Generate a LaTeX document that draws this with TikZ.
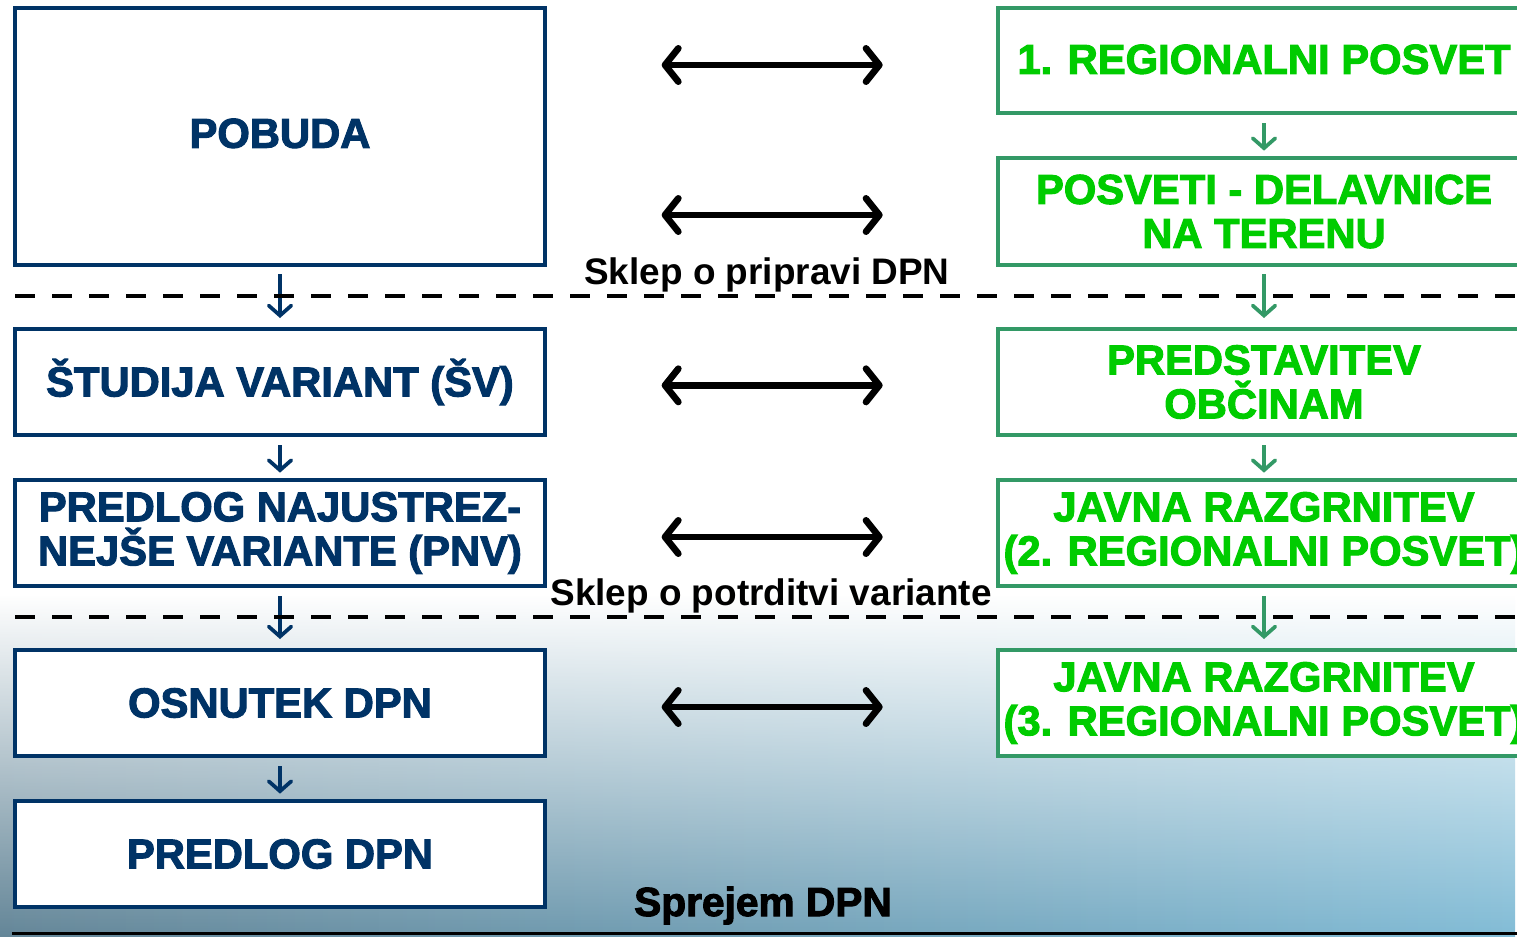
\documentclass[tikz,border=0pt]{standalone}
\usepackage{fontspec}
\setmainfont{Liberation Sans}
\newfontfamily\heavyfont[BoldFeatures={FakeBold=2.5}]{Liberation Sans}
\usetikzlibrary{arrows.meta,fadings}
\definecolor{navy}{RGB}{0,51,102}
\definecolor{gborder}{RGB}{51,153,102}
\definecolor{gtext}{RGB}{0,204,0}
\definecolor{bgl}{RGB}{100,134,152}
\definecolor{bgr}{RGB}{130,188,214}
\tikzfading[name=bgfade, top color=transparent!100, bottom color=transparent!0]
\begin{document}
\begin{tikzpicture}[x=0.75pt,y=-0.75pt,
  boxfont/.style={font=\heavyfont\fontsize{31.3}{33}\selectfont\bfseries},
  lbox/.style={boxfont, draw=navy, line width=3pt, fill=white, minimum width=397.5pt, minimum height=79.5pt, text=navy, align=center, inner sep=0pt},
  rbox/.style={boxfont, draw=gborder, line width=3pt, fill=white, minimum width=399pt, minimum height=79.5pt, text=gtext, align=center, inner sep=0pt},
  dbl/.style={line width=5pt, {Straight Barb[length=10pt,width=25pt,line cap=round,line join=round]}-{Straight Barb[length=10pt,width=25pt,line cap=round,line join=round]}, shorten <=86pt, shorten >=85pt},
  sarL/.style={draw=navy, line width=2.8pt, -{Straight Barb[length=7.5pt,width=17pt,line cap=round]}},
  sarR/.style={draw=gborder, line width=2.8pt, -{Straight Barb[length=7.5pt,width=17pt,line cap=round]}},
  dashline/.style={line width=3.7pt, dash pattern=on 15pt off 12.75pt},
  lab/.style={anchor=base, font=\fontsize{27.7}{30}\selectfont\bfseries},
  biglab/.style={anchor=base, font=\heavyfont\fontsize{30.5}{33}\selectfont\bfseries}
]
\useasboundingbox (0,0) rectangle (1517,936);
\fill[white] (0,0) rectangle (1517,936);
\shade[left color=bgl, right color=bgr, path fading=bgfade] (0,595) rectangle (1517,936);

% left column
\node[lbox, minimum height=192.75pt] (pob) at (280,136.5) {\raisebox{5pt}{POBUDA}};
\node[lbox] (sv) at (280,382) {ŠTUDIJA VARIANT (ŠV)};
\node[lbox] (pnv) at (280,533) {PREDLOG NAJUSTREZ-\\NEJŠE VARIANTE (PNV)};
\node[lbox] (osn) at (280,703) {OSNUTEK DPN};
\node[lbox] (pdpn) at (280,854) {PREDLOG DPN};

% right column
\node[rbox, minimum height=78.75pt] (r1) at (1264,60.5) {\raisebox{2pt}{1. REGIONALNI POSVET}};
\node[rbox, minimum height=80.25pt] (r2) at (1264,211.5) {POSVETI - DELAVNICE\\NA TERENU};
\node[rbox] (r3) at (1264,382) {PREDSTAVITEV\\OBČINAM};
\node[rbox] (r4) at (1264,533) {JAVNA RAZGRNITEV\\(2. REGIONALNI POSVET)};
\node[rbox] (r5) at (1264,703) {JAVNA RAZGRNITEV\\(3. REGIONALNI POSVET)};

% small arrows
\draw[sarL] ([yshift=-5.25pt]pob.south) -- ([yshift=6.75pt]sv.north);
\draw[sarL] ([yshift=-6pt]sv.south) -- ([yshift=4pt]pnv.north);
\draw[sarL] ([yshift=-6pt]pnv.south) -- ([yshift=6.75pt]osn.north);
\draw[sarL] ([yshift=-6pt]osn.south) -- ([yshift=4pt]pdpn.north);
\draw[sarR] ([yshift=-6pt]r1.south) -- ([yshift=4pt]r2.north);
\draw[sarR] ([yshift=-5.25pt]r2.south) -- ([yshift=6.75pt]r3.north);
\draw[sarR] ([yshift=-6pt]r3.south) -- ([yshift=4pt]r4.north);
\draw[sarR] ([yshift=-6pt]r4.south) -- ([yshift=6.75pt]r5.north);

% double arrows
\path (r1.west) ++(0,4.5) coordinate (a1);
\path (r2.west) ++(0,3.5) coordinate (a2);
\draw[dbl] (a1 -| pob.east) -- (a1);
\draw[dbl] (a2 -| pob.east) -- (a2);
\draw[dbl] ([yshift=-2.5pt]sv.east) -- ([yshift=-2.5pt]r3.west);
\draw[dbl] ([yshift=-3pt]pnv.east) -- ([yshift=-3pt]r4.west);
\draw[dbl] ([yshift=-3pt]osn.east) -- ([yshift=-3pt]r5.west);

% dashed separators
\coordinate (d1a) at (15,296); \coordinate (d1b) at (1517,296);
\coordinate (d2a) at (15,617); \coordinate (d2b) at (1517,617);
\draw[dashline] (d1a) -- (d1b);
\draw[dashline] (d2a) -- (d2b);

% labels
\node[lab] (s1) at (767,284) {Sklep o pripravi DPN};
\node[lab] (s2) at (771,605) {Sklep o potrditvi variante};
\node[biglab] (s3) at (763,916) {Sprejem DPN};

% bottom line
\coordinate (b1) at (12,933.5); \coordinate (b2) at (1517,933.5);
\draw[line width=2.5pt] (b1) -- (b2);
\end{tikzpicture}
\end{document}
